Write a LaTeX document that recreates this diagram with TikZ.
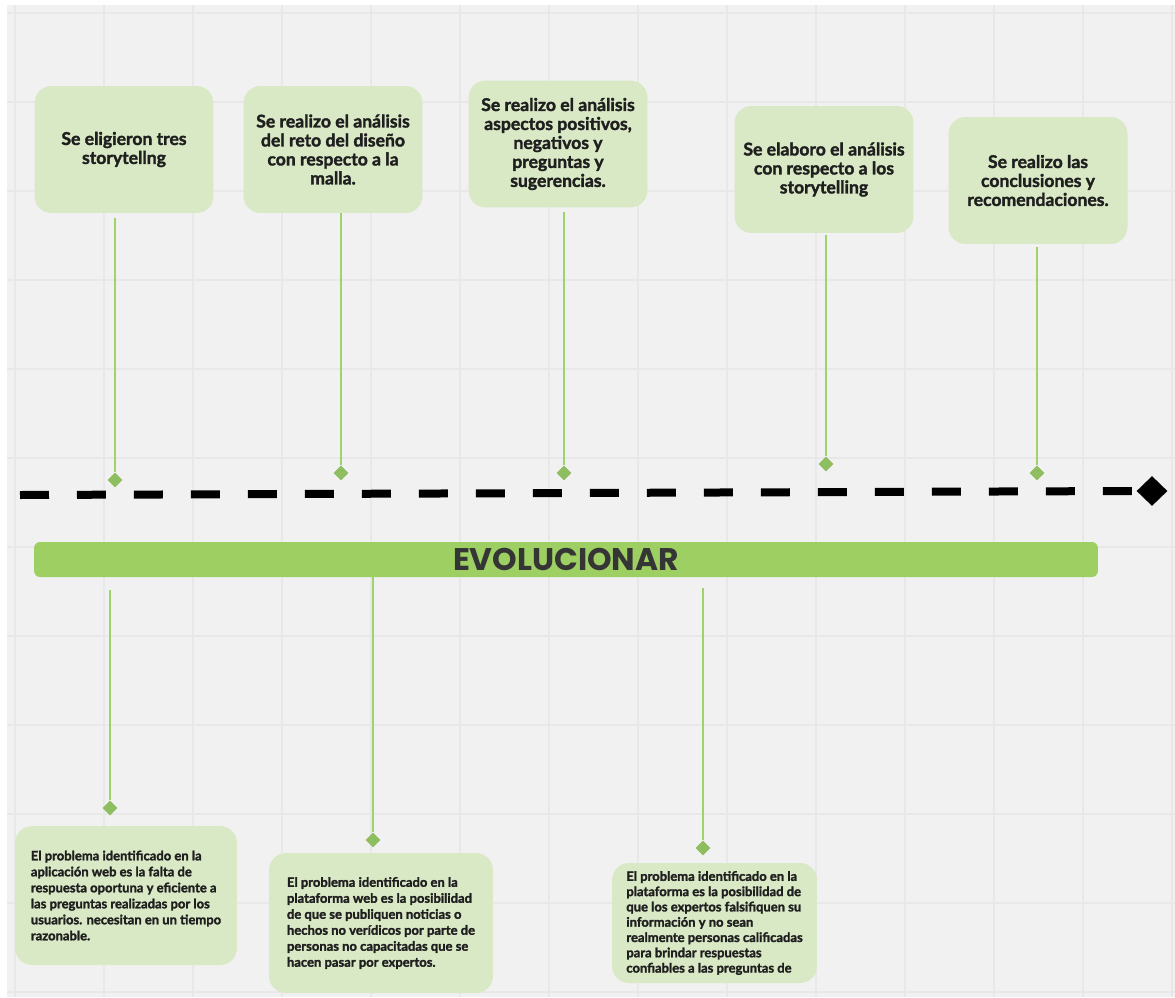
\documentclass[tikz,border=0pt]{standalone}
\usepackage{fontspec}
\setmainfont[BoldFeatures={FakeBold=1.8}]{Lato}
\newfontfamily\titlefont{Poppins}
\usetikzlibrary{shapes.geometric}
\definecolor{Canvas}{HTML}{F1F1F1}
\definecolor{GridLine}{HTML}{E8E8E8}
\definecolor{Sage}{HTML}{D9E8C5}
\definecolor{Leaf}{HTML}{9ED36B}
\definecolor{Bar}{HTML}{9DCF62}
\definecolor{Ink}{HTML}{1F1F1F}

\begin{document}
\begin{tikzpicture}[
  x=0.02cm, y=-0.02cm,
  gridline/.style={draw=GridLine, line width=0.03cm},
  topbox/.style={fill=Sage, rounded corners=0.34cm, minimum width=3.58cm, minimum height=2.54cm, inner sep=0pt, align=center, text=Ink, font=\bfseries\fontsize{10}{10.8}\selectfont},
  lowbox/.style={fill=Sage, rounded corners=0.34cm, inner sep=0pt, align=left, text=Ink, font=\bfseries\fontsize{7.4}{9.1}\selectfont},
  gem/.style={diamond, fill=Leaf!90!black, inner sep=0pt, minimum width=0.3cm, minimum height=0.3cm},
  endgem/.style={diamond, fill=black, inner sep=0pt, minimum width=0.62cm, minimum height=0.6cm},
  stem/.style={draw=Leaf, line width=0.04cm},
  timeline/.style={draw=black, line width=0.16cm, dash pattern=on 0.58cm off 0.56cm},
  bar/.style={fill=Bar, rounded corners=0.12cm, minimum width=21.28cm, minimum height=0.7cm, inner sep=0pt, text=Ink!90, font=\titlefont\bfseries\fontsize{17.8}{20}\selectfont}
]
  \useasboundingbox (0,0) rectangle (1175,997);
  \fill[white] (0,0) rectangle (1175,997);
  \fill[Canvas] (7,5) rectangle (1175,997);
  \foreach \gx in {0,...,13}
    \draw[gridline] (15+89*\gx,5) -- (15+89*\gx,997);
  \foreach \gy in {0,...,11}
    \draw[gridline] (7,13+89*\gy) -- (1175,13+89*\gy);

  \node[topbox] (t1) at (124,149.5) {Se eligieron tres\\storytellng};
  \node[topbox] (t2) at (333,149.5) {Se realizo el análisis\\del reto del diseño\\con respecto a la\\malla.};
  \node[topbox] (t3) at (558,144) {Se realizo el análisis\\aspectos positivos,\\negativos y\\preguntas y\\sugerencias.};
  \node[topbox] (t4) at (824,169.5) {Se elaboro el análisis\\con respecto a los\\storytelling};
  \node[topbox] (t5) at (1038,180.5) {Se realizo las\\conclusiones y\\recomendaciones.};

  \node[gem] (g1) at (115,480) {};
  \node[gem] (g2) at (341,473) {};
  \node[gem] (g3) at (564,473) {};
  \node[gem] (g4) at (826,464) {};
  \node[gem] (g5) at (1037,473) {};
  \draw[stem, shorten >=0.1cm] (g1.north) -- (g1.north |- t1.south);
  \draw[stem] (g2.north) -- (g2.north |- t2.south);
  \draw[stem, shorten >=0.08cm] (g3.north) -- (g3.north |- t3.south);
  \draw[stem, shorten >=0.04cm] (g4.north) -- (g4.north |- t4.south);
  \draw[stem, shorten >=0.06cm] (g5.north) -- (g5.north |- t5.south);

  \coordinate (inicio) at (20,495);
  \node[endgem] (fin) at (1152,491) {};
  \draw[timeline] (inicio) -- (fin.west);

  \node[bar] (evo) at (566,559.5) {EVOLUCIONAR};

  \node[gem] (h1) at (110,808) {};
  \node[gem] (h2) at (373,840) {};
  \node[gem] (h3) at (703,848) {};
  \draw[stem, shorten <=0.26cm] (evo.south -| h1) -- (h1.north);
  \draw[stem] (evo.south -| h2) -- (h2.north);
  \draw[stem, shorten <=0.22cm] (evo.south -| h3) -- (h3.north);

  \node[lowbox, minimum width=4.44cm, minimum height=2.78cm] (b1) at (126,895.5) {El problema identificado en la\\aplicación web es la falta de\\respuesta oportuna y eficiente a\\las preguntas realizadas por los\\usuarios. necesitan en un tiempo\\razonable.};
  \node[lowbox, minimum width=4.48cm, minimum height=2.8cm] (b2) at (381,923) {El problema identificado en la\\plataforma web es la posibilidad\\de que se publiquen noticias o\\hechos no verídicos por parte de\\personas no capacitadas que se\\hacen pasar por expertos.};
  \node[lowbox, minimum width=4.1cm, minimum height=2.4cm, font=\bfseries\fontsize{7.4}{8.7}\selectfont] (b3) at (714.5,923) {El problema identificado en la\\plataforma es la posibilidad de\\que los expertos falsifiquen su\\información y no sean\\realmente personas calificadas\\para brindar respuestas\\confiables a las preguntas de};
\end{tikzpicture}
\end{document}
